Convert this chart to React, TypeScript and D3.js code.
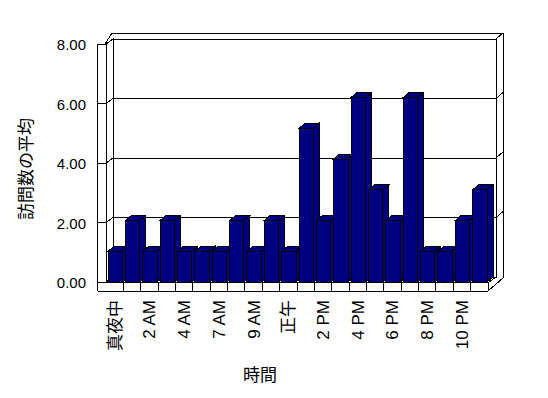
import React, { useEffect, useRef } from 'react';
import * as d3 from 'd3';

const categories = [
  '真夜中', '1 AM', '2 AM', '3 AM', '4 AM', '5 AM', '7 AM', '8 AM', '9 AM', '10 AM', '正午',
  '1 PM', '2 PM', '3 PM', '4 PM', '5 PM', '6 PM', '7 PM', '8 PM', '9 PM', '10 PM', '11 PM',
];
const visits = [1, 2, 1, 2, 1, 1, 1, 2, 1, 2, 1, 5, 2, 4, 6, 3, 2, 6, 1, 1, 2, 3];
const yTicks = [0, 2, 4, 6, 8];

const LATIN = '"Liberation Sans", Arial, "Noto Sans CJK JP", sans-serif';
const NAVY = '#000080';

const App: React.FC = () => {
  const svgRef = useRef<SVGSVGElement>(null);

  useEffect(() => {
    if (!svgRef.current) return;
    const svg = d3.select(svgRef.current);
    svg.selectAll('*').remove();

    // front plane / back wall geometry
    const frontLeft = 106;
    const frontRight = 488;
    const outerLeft = 97.5;
    const backDx = 7;
    const floorBottom = 291;

    const x = d3.scaleBand<string>().domain(categories).range([frontLeft, frontRight]);
    const yBack = d3.scaleLinear().domain([0, 8]).range([277, 39]);
    const yFront = d3.scaleLinear().domain([0, 8]).range([282, 44]);
    const yBar = d3.scaleLinear().domain([0, 8]).range([282, 36]);

    const backLeft = frontLeft + backDx;
    const backRight = frontRight + 8;
    const g = svg.append('g')
      .attr('fill', 'none')
      .attr('stroke', '#000')
      .attr('stroke-width', 1)
      .attr('shape-rendering', 'crispEdges');

    // outer frame of the walls and floor
    g.append('path').attr('d', [
      `M${outerLeft},${floorBottom}`,
      `V${yFront(8)}`,
      `M${frontLeft - 1},${yFront(8)}`,
      `L${backLeft - 1},${yBack(8) - 6}`,
      `H${backRight + 7}`,
      `V${yBack(0) + 1}`,
      `L${frontRight},${floorBottom}`,
      `H${outerLeft}`,
    ].join(' '));

    // inner edges
    g.append('path').attr('d', [
      `M${frontLeft},${yFront(0)}`,
      `V${yFront(8)}`,
      `M${frontLeft},${yFront(8)}`,
      `L${backLeft},${yBack(8)}`,
      `V${yBack(0)}`,
      `H${backRight}`,
      `V${yBack(8)}`,
      `L${backRight + 7},${yBack(8) - 6}`,
    ].join(' '));
    g.append('path').attr('d', `M${backRight},${yBack(0)} L${frontRight + 1},${yFront(0)}`);

    // gridlines with ticks across the side wall
    yTicks.forEach(v => {
      const yf = yFront(v);
      const yb = yBack(v);
      let d = `M${outerLeft},${yf} H${frontLeft} L${backLeft},${yb} H${backRight}`;
      if (v > 0) d += ` L${backRight + 7},${yb - 6}`;
      g.append('path').attr('d', d);
    });

    // floor front face with category cells
    g.append('path').attr('d', `M${outerLeft},${yFront(0)} H${frontRight} V${floorBottom}`);
    categories.slice(1).forEach(c => {
      const xc = x(c) as number;
      g.append('line')
        .attr('x1', xc).attr('x2', xc)
        .attr('y1', yFront(0)).attr('y2', floorBottom);
    });

    // bars
    const dx = 6;
    const dy = -5;
    const bars = svg.append('g')
      .attr('fill', NAVY)
      .attr('stroke', '#000')
      .attr('stroke-width', 1)
      .attr('shape-rendering', 'crispEdges');
    categories.forEach((c, i) => {
      const x0 = (x(c) as number) + 2;
      const x1 = (x(c) as number) + x.bandwidth() - 1;
      const y0 = yBar(0);
      const y1 = yBar(visits[i]);
      bars.append('path').attr('d', `M${x0},${y1} L${x0 + dx},${y1 + dy} H${x1 + dx} L${x1},${y1} Z`);
      bars.append('path').attr('d', `M${x1},${y1} L${x1 + dx},${y1 + dy} V${y0 + dy} L${x1},${y0} Z`);
      bars.append('rect')
        .attr('x', x0).attr('y', y1)
        .attr('width', x1 - x0).attr('height', y0 - y1);
    });

    // y tick labels
    const fmt = d3.format('.2f');
    svg.append('g')
      .selectAll('text')
      .data(yTicks)
      .join('text')
      .attr('x', 86)
      .attr('y', d => yFront(d) + 1)
      .attr('dy', '0.35em')
      .attr('text-anchor', 'end')
      .attr('font-family', LATIN)
      .attr('font-size', 15)
      .text(d => fmt(d));

    // x tick labels, every other category
    svg.append('g')
      .selectAll('text')
      .data(categories.filter((_, i) => i % 2 === 0))
      .join('text')
      .attr('transform', d => `translate(${(x(d) as number) + x.bandwidth() / 2},300) rotate(-90)`)
      .attr('dy', '0.35em')
      .attr('text-anchor', 'end')
      .attr('font-family', LATIN)
      .attr('font-size', 17)
      .text(d => d);

    // axis titles
    svg.append('text')
      .attr('transform', 'translate(26,169) rotate(-90)')
      .attr('dy', '0.35em')
      .attr('text-anchor', 'middle')
      .attr('font-family', LATIN)
      .attr('font-size', 17)
      .text('訪問数の平均');

    svg.append('text')
      .attr('x', 260)
      .attr('y', 375)
      .attr('dy', '0.35em')
      .attr('text-anchor', 'middle')
      .attr('font-family', LATIN)
      .attr('font-size', 17)
      .text('時間');
  }, []);

  return (
    <svg
      ref={svgRef}
      width={548}
      height={398}
      style={{ position: 'absolute', left: 0, top: 0, background: '#fff' }}
    />
  );
};

export default App;
